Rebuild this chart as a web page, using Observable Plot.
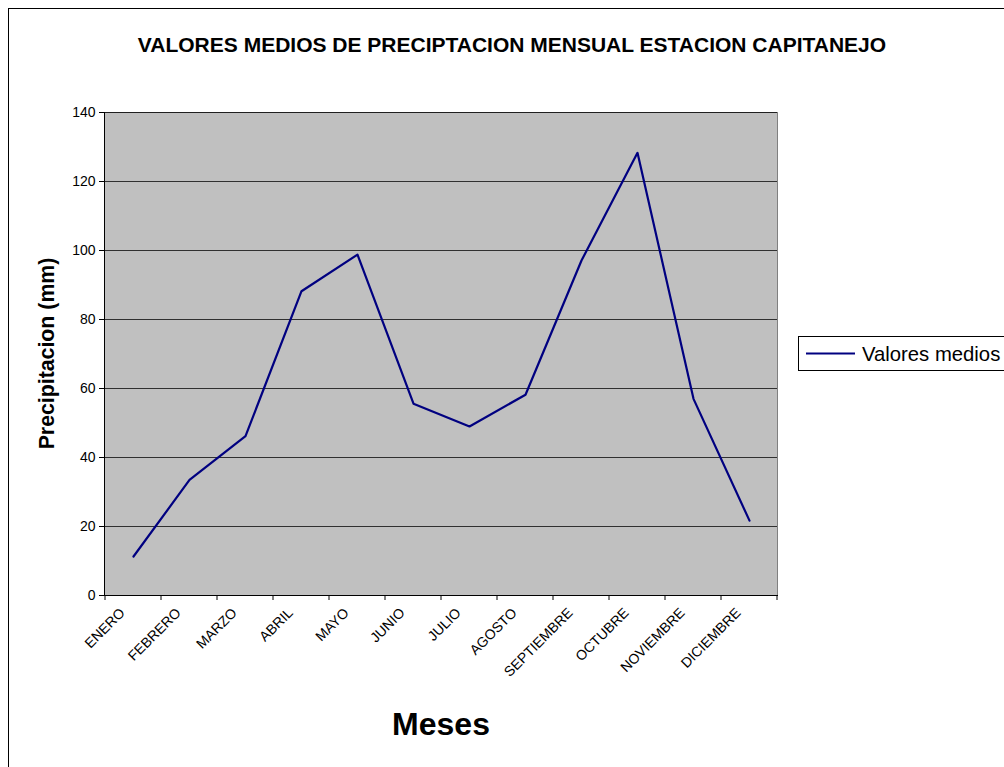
<!DOCTYPE html>
<html>
<head>
<meta charset="utf-8">
<script src="https://cdn.jsdelivr.net/npm/d3@7"></script>
<script src="https://cdn.jsdelivr.net/npm/@observablehq/plot@0.6"></script>
<style>
  html, body { margin: 0; padding: 0; background: #fff; }
  body { width: 1004px; height: 767px; overflow: hidden; position: relative; font-family: "Liberation Sans", Arial, sans-serif; }
  #border { position: absolute; left: 8px; top: 8px; width: 1010px; height: 770px; border: 1px solid #000; box-sizing: border-box; }
  #chart { position: absolute; left: 0; top: 0; }
  #legend { position: absolute; left: 798px; top: 336px; width: 230px; height: 35px; border: 1px solid #000; box-sizing: border-box; background: #fff; }
</style>
</head>
<body>
<div id="border"></div>
<div id="chart"></div>
<div id="legend"></div>
<script>
const months = ["ENERO","FEBRERO","MARZO","ABRIL","MAYO","JUNIO","JULIO","AGOSTO","SEPTIEMBRE","OCTUBRE","NOVIEMBRE","DICIEMBRE"];
const values = [11.3, 33.5, 46.2, 88.2, 98.8, 55.6, 49.0, 58.2, 97.1, 128.3, 57.0, 21.7];
const yTicks = [0, 20, 40, 60, 80, 100, 120, 140];
const titleText = "VALORES MEDIOS DE PRECIPTACION MENSUAL ESTACION CAPITANEJO";
const yLabel = "Precipitacion (mm)";
const xLabel = "Meses";
const seriesName = "Valores medios";

const data = months.map((m, i) => ({month: m, value: values[i]}));
const font = "'Liberation Sans', Arial, sans-serif";

const plot = Plot.plot({
  width: 1004,
  height: 767,
  marginLeft: 104,
  marginRight: 227,
  marginTop: 112,
  marginBottom: 172,
  style: {background: "transparent", fontFamily: font, fontSize: "14px", color: "#000"},
  x: {type: "point", domain: months, padding: 0.5, label: null},
  y: {domain: [0, 140], label: null},
  marks: [
    Plot.frame({fill: "#c0c0c0", stroke: "#808080"}),
    Plot.gridY(yTicks.filter(d => d > 0), {stroke: "#000", strokeOpacity: 0.75}),
    Plot.frame({anchor: "left", stroke: "#000"}),
    Plot.frame({anchor: "bottom", stroke: "#000"}),
    Plot.axisY({ticks: yTicks, tickSize: 5, tickPadding: 4, fontSize: 14, label: null, stroke: "#000"}),
    Plot.axisX({tickSize: 0, tickRotate: -45, tickPadding: 10, dx: -11, dy: 5, fontSize: 14, label: null}),
    Plot.line(data, {x: "month", y: "value", stroke: "#000080", strokeWidth: 2.2})
  ]
});
document.getElementById("chart").appendChild(plot);

// category boundary ticks from the plot's scales
const xs = plot.scale("x");
const ys = plot.scale("y");
const c0 = xs.apply(months[0]);
const step = xs.apply(months[1]) - c0;
const bounds = months.map(m => xs.apply(m) - step / 2).concat([xs.apply(months[months.length - 1]) + step / 2]);
const y0 = ys.apply(0);
const svg = d3.select(plot);
svg.append("g").selectAll("line").data(bounds).join("line")
  .attr("x1", d => d).attr("x2", d => d)
  .attr("y1", y0).attr("y2", y0 + 5)
  .attr("stroke", "#000");

// Title
svg.append("text").attr("x", 512).attr("y", 52)
  .attr("text-anchor", "middle").attr("font-family", font)
  .attr("font-weight", "bold").attr("font-size", 21).attr("fill", "#000")
  .text(titleText);
// Y label
svg.append("text").attr("transform", `translate(54, ${(ys.apply(0) + ys.apply(140)) / 2}) rotate(-90)`)
  .attr("text-anchor", "middle").attr("font-family", font)
  .attr("font-weight", "bold").attr("font-size", 21.3).attr("fill", "#000")
  .text(yLabel);
// X label
svg.append("text").attr("x", 441).attr("y", 735)
  .attr("text-anchor", "middle").attr("font-family", font)
  .attr("font-weight", "bold").attr("font-size", 32).attr("fill", "#000")
  .text(xLabel);

// Legend
const lg = d3.select("#legend").append("svg").attr("width", 228).attr("height", 33);
lg.append("line").attr("x1", 7).attr("x2", 56).attr("y1", 16.5).attr("y2", 16.5)
  .attr("stroke", "#000080").attr("stroke-width", 2.2);
lg.append("text").attr("x", 63).attr("y", 23.5).attr("font-family", font)
  .attr("font-size", 20.3).attr("fill", "#000").text(seriesName);
</script>
</body>
</html>
